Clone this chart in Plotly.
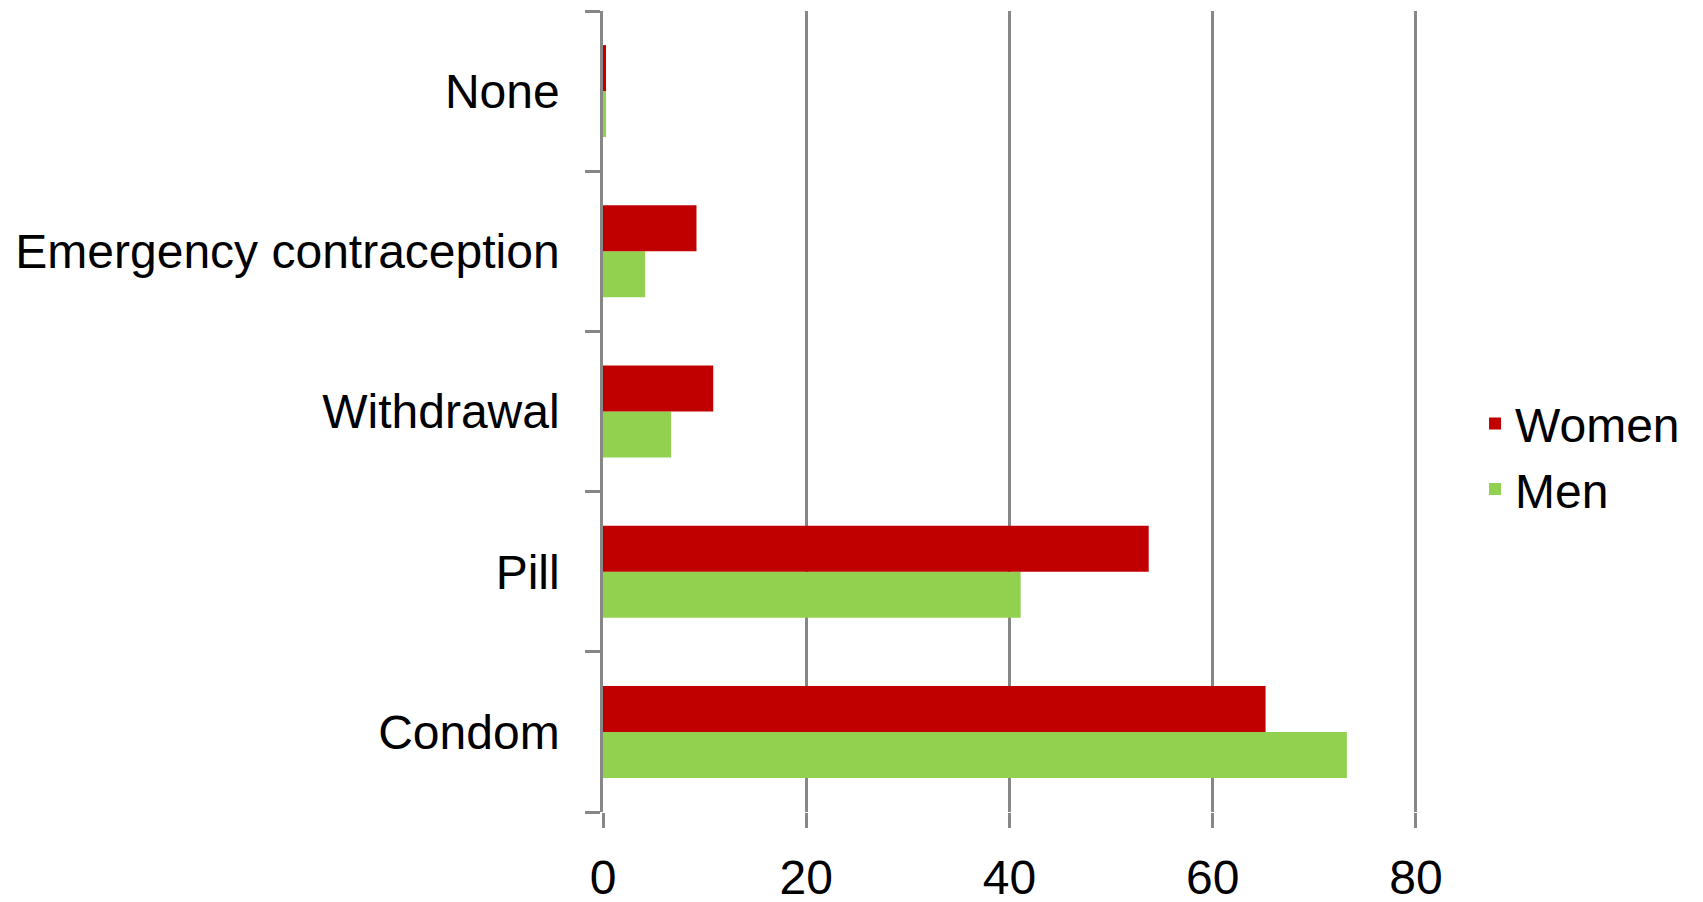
import plotly.graph_objects as go

categories = ["Condom", "Pill", "Withdrawal", "Emergency contraception", "None"]
women = [65.2, 53.7, 10.85, 9.2, 0.3]
men = [73.2, 41.1, 6.7, 4.15, 0.3]
x_ticks = [0, 20, 40, 60, 80]

RED = "#C00000"
GREEN = "#92D050"
GRID = "#878787"
FONT = "Liberation Sans, Arial, sans-serif"

fig = go.Figure()
fig.add_trace(go.Bar(y=categories, x=men, name="Men", orientation="h",
                     marker=dict(color=GREEN, line=dict(width=0))))
fig.add_trace(go.Bar(y=categories, x=women, name="Women", orientation="h",
                     marker=dict(color=RED, line=dict(width=0))))

fig.update_layout(
    width=1687, height=894,
    margin=dict(l=595, r=277, t=3, b=90, pad=0, autoexpand=False),
    paper_bgcolor="white", plot_bgcolor="white",
    barmode="group", bargap=0.426, bargroupgap=0,
    font=dict(family=FONT, size=48, color="black"),
    showlegend=True,
    legend=dict(traceorder="reversed", x=1.07, xanchor="left",
                y=0.444, yanchor="middle", font=dict(size=48),
                bgcolor="rgba(0,0,0,0)", borderwidth=0),
    xaxis=dict(range=[0, 80.2], tickvals=x_ticks, ticktext=[str(v) for v in x_ticks],
               showgrid=True, gridcolor=GRID, gridwidth=2.5,
               zeroline=False, showline=False, automargin=False,
               ticks="outside", ticklen=15, tickwidth=2.5, tickcolor=GRID,
               ticklabelstandoff=8, tickfont=dict(size=48)),
    yaxis=dict(type="category", categoryorder="array", categoryarray=categories,
               showgrid=False, zeroline=False, automargin=False,
               showline=True, linecolor=GRID, linewidth=2.5,
               ticks="outside", ticklen=15, tickwidth=2.5, tickcolor=GRID,
               tickson="boundaries", ticklabelstandoff=31, tickfont=dict(size=48)),
)

fig.write_html("out.html")
